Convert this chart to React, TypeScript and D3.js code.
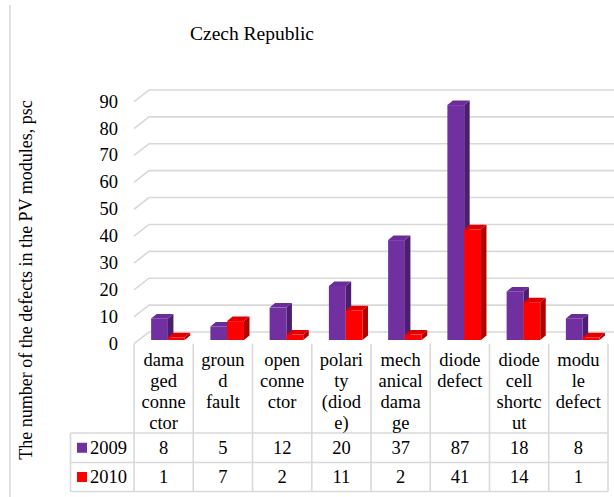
import React from 'react';
import * as d3 from 'd3';

const categories = ['damaged connector', 'ground fault', 'open connector', 'polarity (diode)', 'mechanical damage', 'diode defect', 'diode cell shortcut', 'module defect'];
const categoryLines = [
    ['dama', 'ged', 'conne', 'ctor'],
    ['groun', 'd', 'fault'],
    ['open', 'conne', 'ctor'],
    ['polari', 'ty', '(diod', 'e)'],
    ['mech', 'anical', 'dama', 'ge'],
    ['diode', 'defect'],
    ['diode', 'cell', 'shortc', 'ut'],
    ['modu', 'le', 'defect'],
];
const values2009 = [8, 5, 12, 20, 37, 87, 18, 8];
const values2010 = [1, 7, 2, 11, 2, 41, 14, 1];
const yTicks = [0, 10, 20, 30, 40, 50, 60, 70, 80, 90];
const seriesNames = ['2009', '2010'];

const font = "'Liberation Serif', 'Times New Roman', Times, 'DejaVu Serif', serif";
const gridColor = '#d9d9d9';

const series = [
    { name: seriesNames[0], values: values2009, front: '#7030a0', top: '#6a2c98', side: '#4b1f6f' },
    { name: seriesNames[1], values: values2010, front: '#ff0000', top: '#e00000', side: '#b00000' },
];

export default function App() {
    const width = 614;
    const height = 497;

    const xScale = d3.scaleBand()
        .domain(categories)
        .range([134, 608])
        .padding(0);

    // bars sit in the middle of the 3D depth, gridlines on the back wall
    const yBar = d3.scaleLinear().domain([0, 90]).range([340, 97]);
    const yBack = d3.scaleLinear().domain([0, 90]).range([332, 90]);
    const wallDx = 15;
    const wallDy = 11.7;
    const depthDx = 5.5;
    const depthDy = 4.5;
    const barW = 16.8;

    const tableTop = 433;
    const rowMid = 462.5;
    const tableBottom = 491.5;
    const tableLeft = 70.5;

    const txt = { fontSize: 18.5, fontFamily: font, fill: '#000' };

    const gridlines = yTicks.map(t => {
        const yb = yBack(t);
        return (
            <g key={'g' + t}>
                <path
                    d={`M${xScale.range()[0]},${yb + wallDy} L${xScale.range()[0] + wallDx},${yb} L${width},${yb}`}
                    fill="none"
                    stroke={gridColor}
                    strokeWidth="1.6"
                />
                <text x={118} y={yb + wallDy} textAnchor="end" dominantBaseline="central" style={txt}>
                    {t}
                </text>
            </g>
        );
    });

    const bars = categories.map((c, i) => {
        const center = xScale(c) + xScale.bandwidth() / 2;
        const left = center + 4.3 - barW;
        return series.map((s, j) => {
            const x0 = left + j * barW;
            const x1 = x0 + barW;
            const yt = yBar(s.values[i]);
            const yb = yBar(0);
            return (
                <g key={c + s.name}>
                    <path
                        d={`M${x1},${yt} L${x1 + depthDx},${yt - depthDy} L${x1 + depthDx},${yb - depthDy} L${x1},${yb} Z`}
                        fill={s.side}
                    />
                    <path
                        d={`M${x0},${yt} L${x0 + depthDx},${yt - depthDy} L${x1 + depthDx},${yt - depthDy} L${x1},${yt} Z`}
                        fill={s.top}
                    />
                    <rect x={x0} y={yt} width={barW} height={yb - yt} fill={s.front} />
                </g>
            );
        });
    });

    const columnEdges = [...categories.map(c => xScale(c)), xScale.range()[1]];

    return (
        <svg width={width} height={height} style={{ position: 'absolute', left: 0, top: 0 }}>
            <rect x={0} y={0} width={width} height={height} fill="white" />
            <line x1={10} y1={5} x2={10} y2={height} stroke={gridColor} strokeWidth="1.6" />
            <text x={252} y={33} textAnchor="middle" dominantBaseline="central" style={{ ...txt, fontSize: 19.5 }}>
                Czech Republic
            </text>
            <text
                transform={`translate(26, 280) rotate(-90)`}
                textAnchor="middle"
                dominantBaseline="central"
                style={{ ...txt, fontSize: 18 }}
            >
                The number of the defects in the PV modules, psc
            </text>
            {gridlines}
            {bars}
            {columnEdges.map((x, i) => (
                <line key={'v' + i} x1={x} y1={yBack(0) + wallDy} x2={x} y2={tableBottom} stroke={gridColor} strokeWidth="1.6" />
            ))}
            <line x1={tableLeft} y1={tableTop} x2={tableLeft} y2={tableBottom} stroke={gridColor} strokeWidth="1.6" />
            {[tableTop, rowMid, tableBottom].map(y => (
                <line key={'h' + y} x1={tableLeft} y1={y} x2={xScale.range()[1]} y2={y} stroke={gridColor} strokeWidth="1.6" />
            ))}
            {categories.map((c, i) => (
                <text key={'c' + c} textAnchor="middle" style={txt}>
                    {categoryLines[i].map((line, k) => (
                        <tspan key={k} x={xScale(c) + xScale.bandwidth() / 2} y={366 + k * 21}>{line}</tspan>
                    ))}
                </text>
            ))}
            {series.map((s, j) => {
                const yMid = (j === 0 ? (tableTop + rowMid) / 2 : (rowMid + tableBottom) / 2);
                return (
                    <g key={'row' + s.name}>
                        <rect x={77} y={yMid - 5} width={10} height={10} fill={s.front} />
                        <text x={90} y={yMid} dominantBaseline="central" style={txt}>{s.name}</text>
                        {categories.map((c, i) => (
                            <text
                                key={c}
                                x={xScale(c) + xScale.bandwidth() / 2}
                                y={yMid}
                                textAnchor="middle"
                                dominantBaseline="central"
                                style={txt}
                            >
                                {s.values[i]}
                            </text>
                        ))}
                    </g>
                );
            })}
        </svg>
    );
}
